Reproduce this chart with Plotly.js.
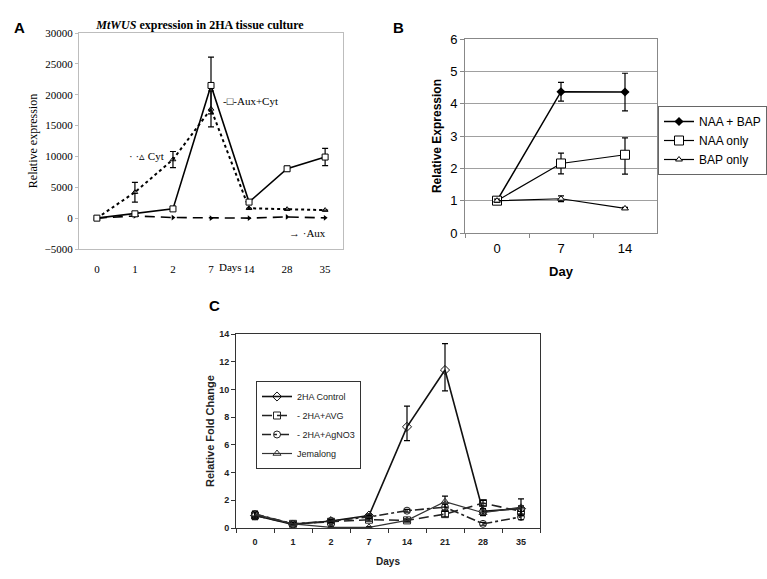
<!DOCTYPE html>
<html>
<head>
<meta charset="utf-8">
<script src="https://cdn.plot.ly/plotly-3.0.1.min.js"></script>
<style>html,body{margin:0;padding:0;background:#fff;}#chart{width:767px;height:579px;}</style>
</head>
<body>
<div id="chart"></div>
<script>
// ---------- Panel A data ----------
const daysA = ["0","1","2","7","14","28","35"];
const auxCyt = [0, 700, 1500, 21500, 2600, 8000, 9900];
const auxCytErr = [0, 0, 0, 4600, 0, 400, 1400];
const cyt = [0, 4200, 9500, 17700, 1600, 1450, 1300];
const cytErr = [0, 1600, 1300, 2900, 0, 0, 0];
const aux = [0, 350, 100, 0, 0, 200, 50];

// ---------- Panel B data ----------
const daysB = ["0","7","14"];
const naaBap = [1, 4.37, 4.36];
const naaBapErr = [0.08, 0.29, 0.58];
const naaOnly = [1, 2.15, 2.42];
const naaOnlyErrUp = [0.08, 0.32, 0.52];
const naaOnlyErrDown = [0.08, 0.32, 0.6];
const bapOnly = [1, 1.06, 0.76];
const bapOnlyErr = [0.05, 0.09, 0.03];

// ---------- Panel C data ----------
const daysC = ["0","1","2","7","14","21","28","35"];
const control = [0.9, 0.25, 0.5, 0.9, 7.3, 11.4, 1.2, 1.4];
const controlErrUp = [0.3, 0.1, 0.1, 0.1, 1.5, 1.9, 0.2, 0.2];
const controlErrDown = [0.3, 0.1, 0.1, 0.1, 1.0, 1.5, 0.2, 0.2];
const avg = [0.9, 0.3, 0.45, 0.6, 0.55, 1.0, 1.8, 1.2];
const avgErr = [0.2, 0.1, 0.1, 0.1, 0.1, 0.2, 0.2, 0.3];
const agno3 = [1.0, 0.3, 0.5, 0.8, 1.25, 1.5, 0.3, 0.8];
const agno3Err = [0.2, 0.1, 0.1, 0.1, 0.1, 0.2, 0.1, 0.2];
const jemalong = [1.0, 0.3, 0.05, 0.05, 0.55, 1.9, 1.1, 1.5];
const jemalongErr = [0.2, 0.1, 0.05, 0.05, 0.1, 0.4, 0.2, 0.6];

const W = 767, H = 579;
const px = v => v / W;
const py = v => 1 - v / H;

const serif = "Liberation Serif, Times New Roman, serif";
const sans = "Liberation Sans, Arial, sans-serif";

function eb(arr, arrMinus) {
  return {type: 'data', array: arr, arrayminus: arrMinus || arr, visible: true,
          color: '#000', thickness: 1.2, width: 3};
}

const traces = [
  // Panel A
  {x: daysA, y: cyt, xaxis: 'x', yaxis: 'y', mode: 'lines+markers', name: 'Cyt', showlegend: false,
   line: {color: '#000', width: 2, dash: 'dot'},
   marker: {symbol: 'triangle-up-open', size: 5, color: '#000'}, error_y: eb(cytErr)},
  {x: daysA, y: aux, xaxis: 'x', yaxis: 'y', mode: 'lines+markers', name: 'Aux', showlegend: false,
   line: {color: '#000', width: 1.6, dash: '10px,6px'},
   marker: {symbol: 'triangle-right', size: 5, color: '#000'}},
  {x: daysA, y: auxCyt, xaxis: 'x', yaxis: 'y', mode: 'lines+markers', name: 'Aux+Cyt', showlegend: false,
   line: {color: '#000', width: 1.6},
   marker: {symbol: 'square', size: 6, color: '#fff', line: {color: '#000', width: 1}}, error_y: eb(auxCytErr)},

  // Panel B
  {x: daysB, y: naaBap, xaxis: 'x2', yaxis: 'y2', mode: 'lines+markers', name: 'NAA + BAP', legend: 'legend',
   line: {color: '#000', width: 1.5},
   marker: {symbol: 'diamond', size: 7, color: '#000'}, error_y: eb(naaBapErr)},
  {x: daysB, y: naaOnly, xaxis: 'x2', yaxis: 'y2', mode: 'lines+markers', name: 'NAA only', legend: 'legend',
   line: {color: '#000', width: 1.2},
   marker: {symbol: 'square', size: 9, color: '#fff', line: {color: '#000', width: 1}},
   error_y: eb(naaOnlyErrUp, naaOnlyErrDown)},
  {x: daysB, y: bapOnly, xaxis: 'x2', yaxis: 'y2', mode: 'lines+markers', name: 'BAP only', legend: 'legend',
   line: {color: '#000', width: 1.2},
   marker: {symbol: 'triangle-up', size: 6, color: '#fff', line: {color: '#000', width: 1}},
   error_y: eb(bapOnlyErr)},

  // Panel C
  {x: daysC, y: control, xaxis: 'x3', yaxis: 'y3', mode: 'lines+markers', name: '2HA Control', legend: 'legend2',
   line: {color: '#111', width: 1.6},
   marker: {symbol: 'diamond-open', size: 7, color: '#111'}, error_y: eb(controlErrUp, controlErrDown)},
  {x: daysC, y: avg, xaxis: 'x3', yaxis: 'y3', mode: 'lines+markers', name: '- 2HA+AVG', legend: 'legend2',
   line: {color: '#222', width: 1.6, dash: '10px,5px'},
   marker: {symbol: 'square-open', size: 7, color: '#222'}, error_y: eb(avgErr)},
  {x: daysC, y: agno3, xaxis: 'x3', yaxis: 'y3', mode: 'lines+markers', name: '- 2HA+AgNO3', legend: 'legend2',
   line: {color: '#222', width: 1.6, dash: 'dashdot'},
   marker: {symbol: 'circle-open', size: 7, color: '#222'}, error_y: eb(agno3Err)},
  {x: daysC, y: jemalong, xaxis: 'x3', yaxis: 'y3', mode: 'lines+markers', name: 'Jemalong', legend: 'legend2',
   line: {color: '#333', width: 1.2},
   marker: {symbol: 'triangle-up-open', size: 7, color: '#333'}, error_y: eb(jemalongErr)}
];

const layout = {
  width: W, height: H,
  margin: {l: 0, r: 0, t: 0, b: 0, autoexpand: false},
  paper_bgcolor: '#fff', plot_bgcolor: '#fff',
  showlegend: true,
  title: {text: '<b><i>MtWUS</i> expression in 2HA tissue culture</b>',
          font: {family: serif, size: 12, color: '#000'},
          x: px(200), xanchor: 'center', xref: 'paper', y: 1 - 25 / H, yanchor: 'middle', yref: 'container'},
  // Panel A axes
  xaxis: {domain: [px(79), px(343)], anchor: 'y', type: 'category', range: [-0.47, 6.47],
          showline: true, mirror: true, linecolor: '#bdbdbd', linewidth: 1,
          ticks: 'outside', ticklen: 10, tickcolor: 'rgba(0,0,0,0)', showgrid: false, zeroline: false,
          tickfont: {family: serif, size: 11, color: '#000'}},
  yaxis: {domain: [py(249), py(33)], anchor: 'x', range: [-5000, 30000], dtick: 5000, tickformat: 'd',
          showline: true, mirror: true, linecolor: '#bdbdbd', linewidth: 1,
          ticks: 'outside', ticklen: 3, tickcolor: '#bdbdbd', showgrid: false, zeroline: false,
          tickfont: {family: serif, size: 11, color: '#000'},
          title: {text: 'Relative expression', font: {family: serif, size: 12, color: '#000'}, standoff: 4}},
  // Panel B axes
  xaxis2: {domain: [px(465), px(657)], anchor: 'y2', type: 'category', range: [-0.5, 2.5],
           showline: true, mirror: true, linecolor: '#888', linewidth: 1,
           ticks: 'outside', tickson: 'boundaries', ticklen: 4, tickcolor: '#888', showgrid: false, zeroline: false,
           ticklabelstandoff: 3,
           tickfont: {family: sans, size: 13, color: '#000'},
           title: {text: '<b>Day</b>', font: {family: sans, size: 13, color: '#000'}, standoff: 12}},
  yaxis2: {domain: [py(233), py(39)], anchor: 'x2', range: [0, 6], dtick: 1,
           showline: true, mirror: true, linecolor: '#888', linewidth: 1,
           ticks: 'outside', ticklen: 4, tickcolor: '#888', showgrid: true, gridcolor: '#a0a0a0', gridwidth: 1,
           zeroline: false, tickfont: {family: sans, size: 13, color: '#000'},
           title: {text: '<b>Relative Expression</b>', font: {family: sans, size: 12, color: '#000'}, standoff: 5}},
  // Panel C axes
  xaxis3: {domain: [px(236), px(540)], anchor: 'y3', type: 'category', range: [-0.5, 7.5],
           showline: true, mirror: true, linecolor: '#333', linewidth: 1,
           ticks: 'outside', tickson: 'boundaries', ticklen: 4, tickcolor: '#333', showgrid: false, zeroline: false,
           ticklabelstandoff: 5,
           tickfont: {family: sans, size: 9, color: '#222', weight: 'bold'},
           title: {text: '<b>Days</b>', font: {family: sans, size: 10, color: '#222'}, standoff: 12}},
  yaxis3: {domain: [py(528), py(334)], anchor: 'x3', range: [0, 14], dtick: 2,
           showline: true, mirror: true, linecolor: '#333', linewidth: 1,
           ticks: 'outside', ticklen: 4, tickcolor: '#333', showgrid: false, zeroline: false,
           tickfont: {family: sans, size: 9, color: '#222', weight: 'bold'},
           title: {text: '<b>Relative Fold Change</b>', font: {family: sans, size: 11, color: '#222'}, standoff: 2}},
  legend: {x: 1, y: py(106), xanchor: 'right', yanchor: 'top', bgcolor: '#fff',
           bordercolor: '#666', borderwidth: 1, font: {family: sans, size: 12, color: '#000'},
           itemwidth: 30, tracegroupgap: 0},
  legend2: {x: px(256), y: py(381), xanchor: 'left', yanchor: 'top', bgcolor: '#fff',
            bordercolor: '#333', borderwidth: 1, font: {family: sans, size: 9, color: '#222'},
            itemwidth: 30, tracegroupgap: 0},
  annotations: [
    {text: '<b>A</b>', x: px(12), y: py(17), xref: 'paper', yref: 'paper', showarrow: false,
     font: {family: sans, size: 15, color: '#000'}},
    {text: '<b>B</b>', x: px(398), y: py(17), xref: 'paper', yref: 'paper', showarrow: false,
     font: {family: sans, size: 15, color: '#000'}},
    {text: '<b>C</b>', x: px(207), y: py(305), xref: 'paper', yref: 'paper', showarrow: false,
     font: {family: sans, size: 15, color: '#000'}},
    {text: 'Days', x: px(217), y: py(267), xref: 'paper', yref: 'paper', xanchor: 'left', showarrow: false,
     font: {family: serif, size: 11, color: '#000'}},
    {text: '· ·▵ Cyt', x: px(127), y: py(148), xref: 'paper', yref: 'paper', xanchor: 'left', showarrow: false,
     font: {family: serif, size: 11, color: '#000'}},
    {text: '-□-Aux+Cyt', x: px(221), y: py(93), xref: 'paper', yref: 'paper', xanchor: 'left', showarrow: false,
     font: {family: serif, size: 11, color: '#000'}},
    {text: '→ ·Aux', x: px(287), y: py(233), xref: 'paper', yref: 'paper', xanchor: 'left', showarrow: false,
     font: {family: serif, size: 11, color: '#000'}}
  ]
};

Plotly.newPlot('chart', traces, layout, {staticPlot: true, displayModeBar: false});
</script>
</body>
</html>
